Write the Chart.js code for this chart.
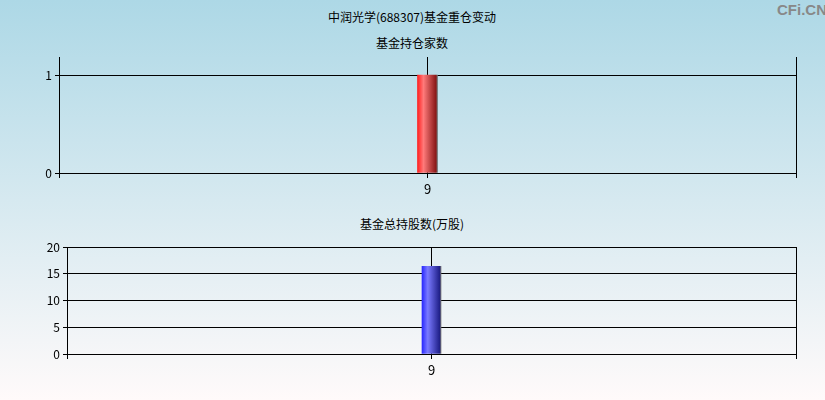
<!DOCTYPE html>
<html>
<head>
<meta charset="utf-8">
<script src="https://cdn.jsdelivr.net/npm/chart.js@4.4.0/dist/chart.umd.min.js"></script>
<style>
html,body{margin:0;padding:0;}
body{width:825px;height:400px;position:relative;overflow:hidden;
  background:linear-gradient(to bottom,#add8e6 0%,#d6e9f0 50%,#fffafa 100%);
  font-family:"Noto Sans CJK SC","Noto Sans",sans-serif;}
.t{position:absolute;font-size:12px;color:#000;white-space:nowrap;transform:translateX(-50%);line-height:14px;}
#wm{position:absolute;left:777px;top:1px;font-family:"Liberation Sans",Arial,sans-serif;font-weight:bold;font-size:15px;color:#888;}
.c{position:absolute;left:0;}
</style>
</head>
<body>
<div class="t" style="left:412px;top:10px;">中润光学(688307)基金重仓变动</div>
<div class="t" style="left:412px;top:36px;">基金持仓家数</div>
<div class="t" style="left:412px;top:217px;">基金总持股数(万股)</div>
<div id="wm">CFi.CN</div>
<div class="c" style="top:0;width:825px;height:200px;"><canvas id="c1"></canvas></div>
<div class="c" style="top:200px;width:825px;height:200px;"><canvas id="c2"></canvas></div>
<script>
const categories = ['9'];
const fundCount = [1];
const fundShares = [16.4];
const yTicksTop = [0, 1];
const yTicksBottom = [0, 5, 10, 15, 20];

const framePlugin = {
  id: 'frame',
  afterDraw(chart) {
    const a = chart.chartArea, ctx = chart.ctx;
    ctx.save();
    ctx.strokeStyle = '#000';
    ctx.lineWidth = 1;
    ctx.beginPath();
    ctx.moveTo(Math.round(a.right) + 0.5, a.top);
    ctx.lineTo(Math.round(a.right) + 0.5, a.bottom + 5);
    ctx.moveTo(Math.round(a.left) + 0.5, a.bottom);
    ctx.lineTo(Math.round(a.left) + 0.5, a.bottom + 5);
    ctx.stroke();
    ctx.restore();
  }
};

function makeGrad(stops, w) {
  return function(c) {
    if (c.type !== 'data') return stops[1];
    const chart = c.chart;
    const xs = chart.scales && chart.scales.x;
    if (!xs) return stops[1];
    const cx = xs.getPixelForValue(c.dataIndex);
    if (!isFinite(cx)) return stops[1];
    const g = chart.ctx.createLinearGradient(cx - w / 2, 0, cx + w / 2, 0);
    g.addColorStop(0, stops[0]);
    g.addColorStop(0.3, stops[1]);
    g.addColorStop(0.92, stops[2]);
    g.addColorStop(1, stops[3]);
    return g;
  };
}

function makeChart(id, data, ticks, yMax, yWidth, padTop, xHeight, barW, stops) {
  const ch = new Chart(document.getElementById(id), {
    type: 'bar',
    data: {
      labels: categories,
      datasets: [{
        data: data,
        backgroundColor: makeGrad(stops, barW),
        borderWidth: 0,
        barThickness: barW
      }]
    },
    options: {
      responsive: true,
      maintainAspectRatio: false,
      animation: false,
      layout: { padding: { top: padTop, right: 29, left: 0, bottom: 0 } },
      plugins: { legend: { display: false }, tooltip: { enabled: false }, title: { display: false } },
      scales: {
        x: {
          offset: true,
          grid: { offset: false, color: '#000', lineWidth: 1, tickLength: 5, drawOnChartArea: true },
          border: { display: true, color: '#000', width: 1 },
          ticks: { color: '#000', font: { size: 13, family: '"Noto Sans CJK SC"' }, padding: 3 },
          afterFit(s) { s.height = xHeight; }
        },
        y: {
          min: 0, max: yMax,
          grid: { color: '#000', lineWidth: 1, tickLength: 4 },
          border: { display: true, color: '#000', width: 1 },
          ticks: { color: '#000', font: { size: 12, family: '"Noto Sans CJK SC"' }, padding: 3 },
          afterBuildTicks(s) { s.ticks = ticks.map(v => ({ value: v })); },
          afterFit(s) { s.width = yWidth; }
        }
      }
    },
    plugins: [framePlugin]
  });
  ch.update();
  return ch;
}

makeChart('c1', fundCount, yTicksTop, 1.184, 59, 57, 27, 20, ['#ff2020', '#ff7a7a', '#8a1818', '#6e6e6e']);
makeChart('c2', fundShares, yTicksBottom, 20, 67, 47, 46, 19, ['#2a2aff', '#7a7aff', '#20208a', '#6e6e6e']);
</script>
</body>
</html>
